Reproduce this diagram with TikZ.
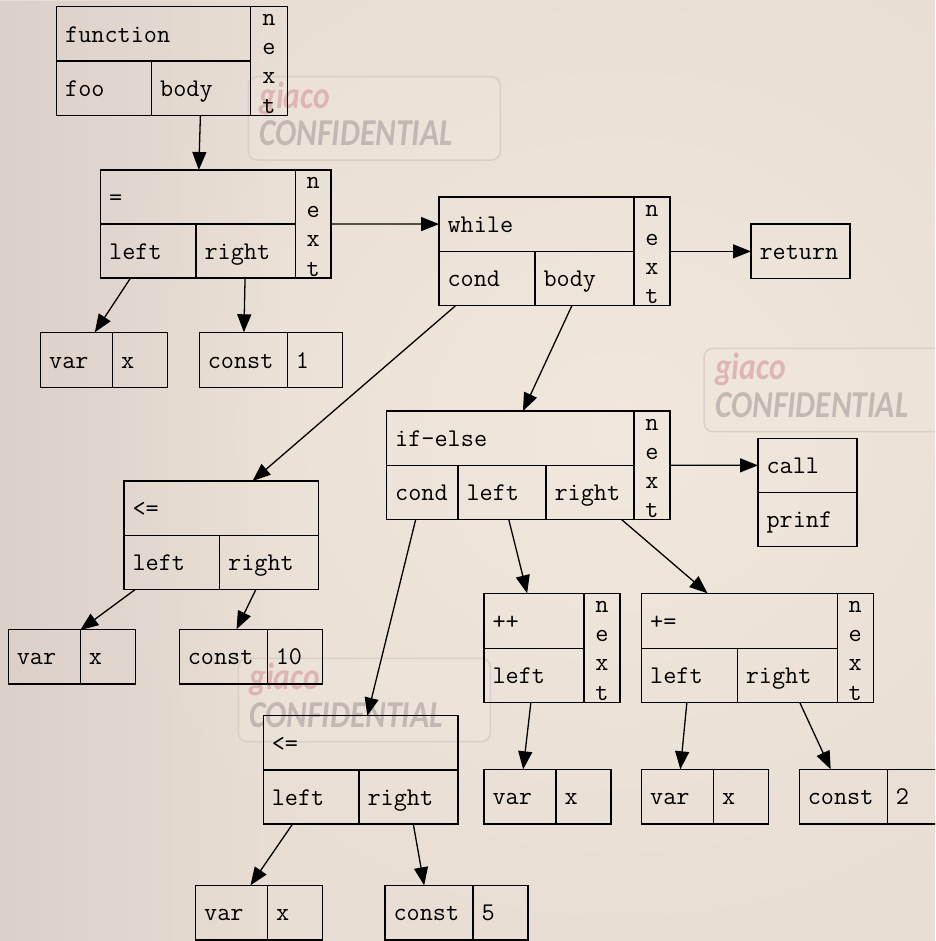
\documentclass[tikz,border=0pt]{standalone}
\usepackage{fontspec}
\usetikzlibrary{arrows.meta,fadings}
\newfontfamily\wmfam{Carlito}[FakeStretch=0.83]
\definecolor{paper}{RGB}{232,222,212}
\definecolor{paperlight}{RGB}{240,232,220}
\definecolor{paperdark}{RGB}{220,209,201}
\definecolor{wmpink}{RGB}{214,156,160}
\definecolor{wmgrey}{RGB}{172,162,160}
\definecolor{wmedge}{RGB}{212,202,196}

\tikzset{
  field/.style={draw, line width=1.4pt, inner xsep=8.5pt, inner ysep=0pt,
    outer sep=0pt, anchor=north west, align=left, text height=16.6pt,
    text depth=0pt, font=\ttfamily\fontsize{25.5}{29.1}\selectfont},
  nextcol/.style={draw, line width=1.4pt, inner sep=0pt, outer sep=0pt,
    anchor=north west, align=center,
    font=\ttfamily\fontsize{25.5}{29.1}\selectfont},
  link/.style={line width=1.3pt, -{Triangle[length=18pt,width=14pt]}},
  stamp/.style={draw=wmedge, line width=1.5pt, rounded corners=9pt,
    fill=paperlight, fill opacity=0.35, draw opacity=0.8},
  stampword/.style={anchor=base west, inner sep=0pt, text opacity=0.65,
    font=\wmfam\bfseries\itshape\fontsize{38}{40}\selectfont},
}

% one field of a record: name, left, top, right, bottom, text
\newcommand\recfield[6]{%
  \pgfmathsetmacro\fieldw{#4-#2-17}%
  \pgfmathsetmacro\fieldh{#5-#3}%
  \node[field, text width=\fieldw pt, minimum height=\fieldh pt] (#1) at (#2,#3) {#6};}
% the vertical "next" column of a record: name, left, top, right, bottom
\newcommand\recnext[5]{%
  \pgfmathsetmacro\fieldw{#4-#2}%
  \pgfmathsetmacro\fieldh{#5-#3}%
  \node[nextcol, minimum width=\fieldw pt, minimum height=\fieldh pt] (#1) at (#2,#3)
    {\rule{0pt}{17pt}n\\e\\x\\t};}
% watermark stamp: name, left, top
\newcommand\stampat[3]{%
  \draw[stamp] (#2,#3) rectangle ++(252,83.4);
  \node[stampword, text=wmpink] (#1g) at (#2+11,#3+31.5) {giaco};
  \node[stampword, text=wmgrey] (#1c) at (#2+11,#3+69) {CONFIDENTIAL};}

\begin{document}
\begin{tikzpicture}[x=1pt,y=-1pt]
\useasboundingbox (0,0) rectangle (935,941);
\clip (0,0) rectangle (935,941);

% paper background: warm centre, darker left margin
\fill[paper] (0,0) rectangle (935,941);
\shade[inner color=paperlight, outer color=paper] (620,430) ellipse (560 and 520);
\fill[paperdark, path fading=east] (0,0) rectangle (280,941);

% watermark stamps
\stampat{wa}{248.3}{76.7}
\stampat{wb}{704}{348.3}
\stampat{wc}{238.3}{658.3}

% function record
\recfield{fop}{56.7}{6.7}{250.7}{61}{function}
\recfield{fname}{56.7}{61}{151.7}{115.3}{foo}
\recfield{fbody}{151.7}{61}{250.7}{115.3}{body}
\recnext{fnext}{250.7}{6.7}{287.3}{115.3}

% assignment
\recfield{eqop}{100.7}{170}{295.3}{224}{=}
\recfield{eqleft}{100.7}{224}{196}{278}{left}
\recfield{eqright}{196}{224}{295.3}{278}{right}
\recnext{eqnext}{295.3}{170}{331}{278}

\recfield{vx1var}{40.7}{332.3}{112.7}{387.3}{var}
\recfield{vx1x}{112.7}{332.3}{167.7}{387.3}{x}
\recfield{c1k}{199.3}{332.3}{287.3}{387.3}{const}
\recfield{c1v}{287.3}{332.3}{342.3}{387.3}{1}

% while loop
\recfield{whop}{439}{197}{634}{251.3}{while}
\recfield{whcond}{439}{251.3}{535}{305.7}{cond}
\recfield{whbody}{535}{251.3}{634}{305.7}{body}
\recnext{whnext}{634}{197}{670}{305.7}

\recfield{ret}{751}{224}{850}{278.7}{return}

% loop condition
\recfield{le1op}{124}{481}{318.3}{535.3}{<=}
\recfield{le1left}{124}{535.3}{219.7}{589.5}{left}
\recfield{le1right}{219.7}{535.3}{318.3}{589.5}{right}

\recfield{vx2var}{8.3}{629.3}{80.3}{683.9}{var}
\recfield{vx2x}{80.3}{629.3}{135.3}{683.9}{x}
\recfield{c10k}{179.3}{629.3}{267.3}{683.9}{const}
\recfield{c10v}{267.3}{629.3}{322.3}{683.9}{10}

% if-else
\recfield{ifop}{386.7}{411}{634}{465.3}{if-else}
\recfield{ifcond}{386.7}{465.3}{458}{519.5}{cond}
\recfield{ifleft}{458}{465.3}{546}{519.5}{left}
\recfield{ifright}{546}{465.3}{634}{519.5}{right}
\recnext{ifnext}{634}{411}{670}{519.5}

\recfield{callk}{758}{438.3}{857}{492.5}{call}
\recfield{callf}{758}{492.5}{857}{546.7}{prinf}

% increment
\recfield{ppop}{484}{593.3}{584}{648.3}{++}
\recfield{ppleft}{484}{648.3}{584}{702.7}{left}
\recnext{ppnext}{584}{593.3}{620}{702.7}

\recfield{vx3var}{484}{769.3}{556}{824}{var}
\recfield{vx3x}{556}{769.3}{611}{824}{x}

% compound assignment
\recfield{peop}{641.7}{593.3}{837.3}{648.3}{+=}
\recfield{peleft}{641.7}{648.3}{737.3}{702.7}{left}
\recfield{peright}{737.3}{648.3}{837.3}{702.7}{right}
\recnext{penext}{837.3}{593.3}{873.3}{702.7}

\recfield{vx4var}{641.7}{769.3}{713.7}{824}{var}
\recfield{vx4x}{713.7}{769.3}{768.7}{824}{x}
\recfield{c2k}{799.3}{769.3}{887.3}{824}{const}
\recfield{c2v}{887.3}{769.3}{942.3}{824}{2}

% if condition
\recfield{le2op}{263.3}{715.7}{458}{769.9}{<=}
\recfield{le2left}{263.3}{769.9}{359}{824}{left}
\recfield{le2right}{359}{769.9}{458}{824}{right}

\recfield{vx5var}{195.7}{885.3}{267.7}{940}{var}
\recfield{vx5x}{267.7}{885.3}{322.7}{940}{x}
\recfield{c5k}{385}{885.3}{473}{940}{const}
\recfield{c5v}{473}{885.3}{528}{940}{5}

% links
\draw[link] (fbody) -- (eqop);
\draw[link] (eqleft) -- (vx1var);
\draw[link] (eqright) -- (c1k);
\draw[link] (eqnext) -- (whop);
\draw[link] (whnext) -- (ret);
\draw[link] (whcond) -- (le1op);
\draw[link] (whbody) -- (ifop);
\draw[link] (ifnext) -- (callk);
\draw[link] (ifcond) -- (le2op);
\draw[link] (ifleft) -- (ppop);
\draw[link] (ifright) -- (peop);
\draw[link] (le1left) -- (vx2var);
\draw[link] (le1right) -- (c10k);
\draw[link] (le2left) -- (vx5var);
\draw[link] (le2right) -- (c5k);
\draw[link] (ppleft) -- (vx3var);
\draw[link] (peleft) -- (vx4var);
\draw[link] (peright) -- (c2k);
\end{tikzpicture}
\end{document}
